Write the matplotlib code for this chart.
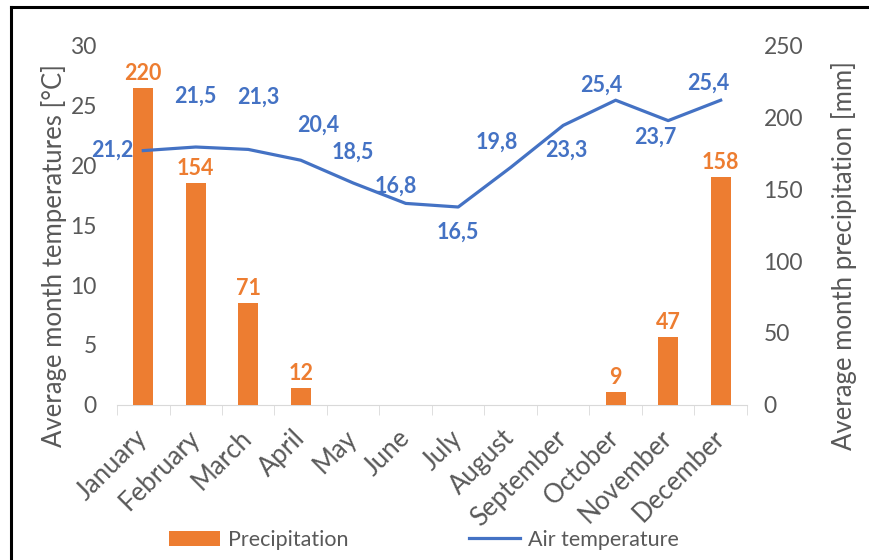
import matplotlib
matplotlib.use("Agg")
import matplotlib.pyplot as plt
from matplotlib.lines import Line2D

plt.rcParams.update({"font.family": ["Lato", "DejaVu Sans"]})
ORANGE, BLUE, GREY = "#ED7D31", "#4472C4", "#595959"

months = ["January", "February", "March", "April", "May", "June", "July",
          "August", "September", "October", "November", "December"]
temperature = [21.2, 21.5, 21.3, 20.4, 18.5, 16.8, 16.5, 19.8, 23.3, 25.4, 23.7, 25.4]
precipitation = [220, 154, 71, 12, 0, 0, 0, 0, 0, 9, 47, 158]
# label offsets (pixels) for the temperature labels, as Excel placed them
temp_offsets = [(-10, 0), (0, 51), (10, 52), (17, 35), (0, 31), (-10, 17),
                (0, -25), (-14, 25), (3, -25), (-14, 15), (-13, -17), (-12, 17)]

fig = plt.figure(figsize=(8.7, 5.6), dpi=100)
ax = fig.add_axes([0.1345, 0.2768, 0.724, 0.6428])
ax2 = ax.twinx()

x = range(len(months))
# bars on the secondary (precipitation) axis
ax2.bar(x, precipitation, width=0.38, color=ORANGE, label="Precipitation", zorder=2)
for i, p in enumerate(precipitation):
    if p > 0:
        ax2.annotate(str(p), (i, p), xytext=(0, 4), textcoords="offset pixels",
                     ha="center", va="bottom", color=ORANGE, fontsize=15.5,
                     fontweight="bold")

ax2.set_ylim(0, 250)
ax2.set_yticks(range(0, 251, 50))
ax.set_ylim(0, 30)
ax.set_yticks(range(0, 31, 5))

# line drawn on top
ax3 = ax.twinx()
ax3.set_ylim(0, 30)
ax3.axis("off")
ax3.plot(x, temperature, color=BLUE, lw=2.3, label="Air temperature", zorder=3)
for i, (t, (dx, dy)) in enumerate(zip(temperature, temp_offsets)):
    ha = "right" if i == 0 else "center"
    ax3.annotate(f"{t:.1f}".replace(".", ","), (i, t), xytext=(dx, dy),
                 textcoords="offset pixels", ha=ha, va="center", color=BLUE,
                 fontsize=15.5, fontweight="bold")

for a in (ax, ax2, ax3):
    a.set_xlim(-0.5, 11.5)
    for s in a.spines.values():
        s.set_visible(False)

ax.spines["bottom"].set_visible(True)
ax.spines["bottom"].set_color("#D9D9D9")
ax.set_xticks(list(x))
ax.set_xticklabels(months, rotation=45, ha="right", va="center",
                   rotation_mode="anchor", fontsize=18.5, color=GREY)
ax.set_xticks([i - 0.5 for i in range(13)], minor=True)
ax.tick_params(axis="x", which="major", length=0, pad=21)
ax.tick_params(axis="x", which="minor", length=7, color="#D9D9D9")
ax.tick_params(axis="y", length=0, labelsize=16.5, labelcolor=GREY, pad=14.5)
ax2.tick_params(axis="y", length=0, labelsize=16.5, labelcolor=GREY, pad=12)

ax.set_ylabel("Average month temperatures [°C]", fontsize=18.5, color=GREY)
ax2.set_ylabel("Average month precipitation [mm]", fontsize=18.5, color=GREY)
ax.yaxis.set_label_coords(-0.079, 0.415)
ax2.yaxis.set_label_coords(1.133, 0.415)

h1, l1 = ax2.get_legend_handles_labels()
h2, l2 = ax3.get_legend_handles_labels()
fig.legend(h1 + h2, l1 + l2, loc="lower center", bbox_to_anchor=(0.487, -0.016),
           ncol=2, frameon=False, fontsize=15.5, handlelength=2.4,
           columnspacing=5.6, labelcolor=GREY, handletextpad=0.35)

# chart frame: only the top and left edges show in the cropped original
fig.add_artist(Line2D([0.013, 1.0], [0.987, 0.987], transform=fig.transFigure,
                      color="black", lw=2.2))
fig.add_artist(Line2D([0.013, 0.013], [0.0, 0.987], transform=fig.transFigure,
                      color="black", lw=2.2))

fig.savefig("out.png", dpi=100)
